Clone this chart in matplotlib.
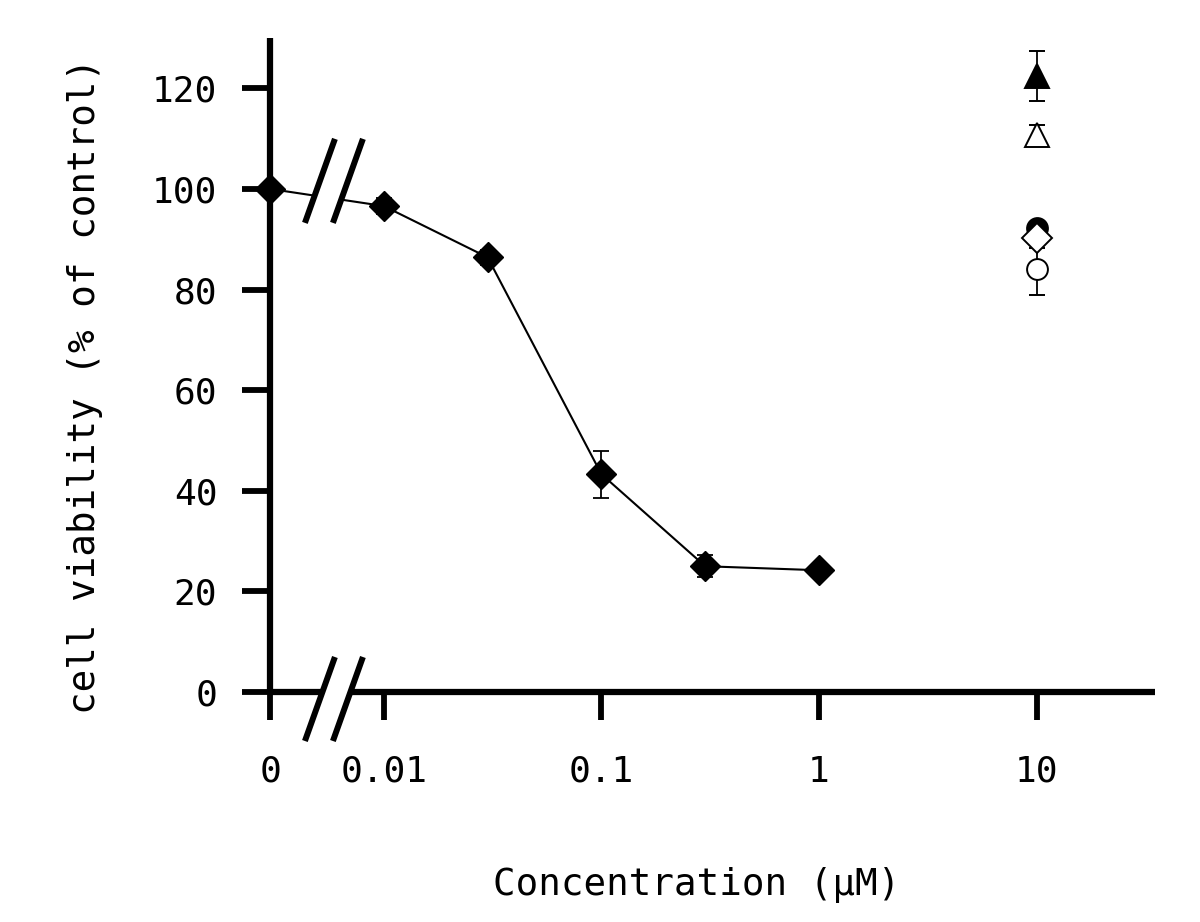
import matplotlib
matplotlib.use("Agg")
import matplotlib.pyplot as plt
from matplotlib.lines import Line2D
from matplotlib.patches import Polygon
from matplotlib.ticker import NullLocator

plt.rcParams['font.family'] = ['DejaVu Sans Mono']

# dose-response series (concentration in uM, 0 = control)
conc = [0, 0.01, 0.03, 0.1, 0.3, 1]
viability = [100.0, 96.6, 86.4, 43.3, 25.0, 24.2]
viability_err = [0.0, 1.5, 1.5, 4.7, 2.2, 0.0]

# single-dose comparison compounds, all at 10 uM
ref_conc = 10
ref_values = [122.5, 110.7, 92.2, 90.3, 84.0]
ref_err = [5.0, 2.0, 1.0, 2.0, 5.0]
ref_markers = ['^', '^', 'o', 'D', 'o']
ref_sizes = [17, 17, 15, 15, 15]
ref_filled = [True, False, True, False, False]

x_ticks = [0, 0.01, 0.1, 1, 10]
x_ticklabels = ['0', '0.01', '0.1', '1', '10']
y_ticks = [0, 20, 40, 60, 80, 100, 120]

ZERO_POS = 0.003   # where the control (0) sits on the log axis
BREAK_POS = 0.0059  # where the axis break is drawn
X_MAX = 35
Y_MAX = 130


def as_pos(c):
    return ZERO_POS if c == 0 else c


fig = plt.figure(figsize=(12, 9.22), dpi=100)
ax = fig.add_axes([270 / 1200, (922 - 692) / 922, 885 / 1200, 654 / 922])

ax.errorbar([as_pos(c) for c in conc], viability, yerr=viability_err,
            fmt='-D', color='k', ms=15, lw=1.5, elinewidth=1.3,
            capsize=6, capthick=1.3, clip_on=False, zorder=3)

for v, e, m, s, f in zip(ref_values, ref_err, ref_markers, ref_sizes, ref_filled):
    ax.errorbar([ref_conc], [v], yerr=[e], fmt=m, ms=s, color='k',
                mfc='k' if f else 'white', mec='k', mew=1.4,
                elinewidth=1.3, capsize=6, capthick=1.3, clip_on=False, zorder=3)

ax.set_xscale('log')
ax.set_xlim(ZERO_POS, X_MAX)
ax.set_ylim(0, Y_MAX)
ax.set_xticks([as_pos(c) for c in x_ticks])
ax.set_xticklabels(x_ticklabels)
ax.xaxis.set_minor_locator(NullLocator())
ax.set_yticks(y_ticks)

for side in ('top', 'right'):
    ax.spines[side].set_visible(False)
for side in ('left', 'bottom'):
    ax.spines[side].set_linewidth(4.5)
    ax.spines[side].set_capstyle('butt')

ax.tick_params(axis='both', direction='out', length=20, width=4.2, labelsize=26)
ax.tick_params(axis='x', pad=25)
ax.tick_params(axis='y', pad=18)

fig.text(85 / 1200, 1 - 386 / 922, 'cell viability (% of control)',
         rotation=90, ha='center', va='center', fontsize=27)
fig.text(697 / 1200, 1 - 885 / 922, 'Concentration (μM)',
         ha='center', va='center', fontsize=27)


def draw_break(x_data, y_data, dy_px):
    cx, cy = ax.transData.transform((x_data, y_data))
    cy += dy_px
    gap, hw, hh = 14, 15, 42
    poly = Polygon([(cx - gap - hw, cy - hh), (cx - gap + hw, cy + hh),
                    (cx + gap + hw, cy + hh), (cx + gap - hw, cy - hh)],
                   closed=True, transform=None, facecolor='white',
                   edgecolor='none', zorder=5)
    fig.add_artist(poly)
    for dx in (-gap, gap):
        fig.add_artist(Line2D([cx + dx - hw, cx + dx + hw], [cy - hh, cy + hh],
                              transform=None, color='k', lw=4.3,
                              solid_capstyle='butt', zorder=6))


draw_break(BREAK_POS, 0, -7)
draw_break(BREAK_POS, 101.6, 0)

fig.savefig('out.png', dpi=100)
